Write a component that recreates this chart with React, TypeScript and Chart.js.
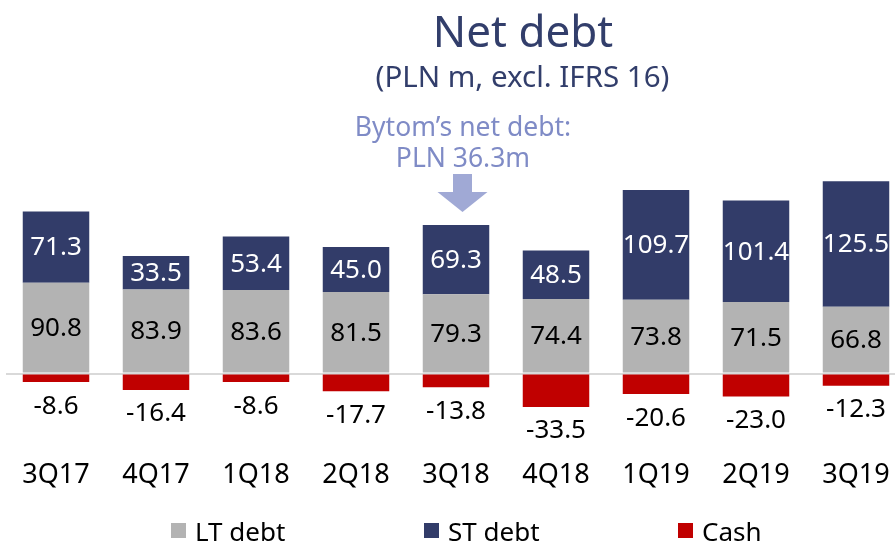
import React, { useEffect, useRef } from 'react';
import { Chart, registerables } from 'chart.js';

Chart.register(...registerables);

// ---- data ----
const categories = ['3Q17', '4Q17', '1Q18', '2Q18', '3Q18', '4Q18', '1Q19', '2Q19', '3Q19'];
const ltDebt = [90.8, 83.9, 83.6, 81.5, 79.3, 74.4, 73.8, 71.5, 66.8];
const stDebt = [71.3, 33.5, 53.4, 45.0, 69.3, 48.5, 109.7, 101.4, 125.5];
const cash = [-8.6, -16.4, -8.6, -17.7, -13.8, -33.5, -20.6, -23.0, -12.3];
const seriesNames = ['LT debt', 'ST debt', 'Cash'];
const titleText = 'Net debt';
const subtitleText = '(PLN m, excl. IFRS 16)';
const noteLines = ['Bytom’s net debt:', 'PLN 36.3m'];
const noteCategory = '3Q18';

// ---- styles ----
const FONT = "'Noto Sans', sans-serif";
const COLORS = ['#B3B3B3', '#323C69', '#C00000'];
const NAVY_TEXT = '#323E6B';
const NOTE_TEXT = '#7F8BC6';
const NOTE_ARROW = '#A0A9D5';

const overlayPlugin = {
  id: 'overlay',
  afterDatasetsDraw(chart: any) {
    const ctx = chart.ctx;
    ctx.save();
    ctx.font = `26px ${FONT}`;
    ctx.textAlign = 'center';
    ctx.textBaseline = 'middle';
    chart.data.datasets.forEach((ds: any, di: number) => {
      const meta = chart.getDatasetMeta(di);
      meta.data.forEach((el: any, i: number) => {
        const v = ds.data[i] as number;
        const { x, y, base } = el.getProps(['x', 'y', 'base'], true);
        const label = v.toFixed(1);
        if (v < 0) {
          ctx.fillStyle = '#000';
          ctx.fillText(label, x, Math.max(y, base) + 24);
        } else {
          ctx.fillStyle = di === 1 ? '#FFFFFF' : '#000';
          ctx.fillText(label, x, (y + base) / 2 + 1);
        }
      });
    });
    ctx.restore();
  },
  afterDraw(chart: any) {
    const ctx = chart.ctx;
    ctx.save();
    // title & subtitle
    ctx.textAlign = 'center';
    ctx.textBaseline = 'alphabetic';
    ctx.fillStyle = NAVY_TEXT;
    ctx.font = `44px ${FONT}`;
    ctx.fillText(titleText, 523, 47);
    ctx.font = `29.5px ${FONT}`;
    ctx.fillText(subtitleText, 522.5, 87);

    // annotation above the noted bar
    const idx = categories.indexOf(noteCategory);
    const xs = chart.scales.x;
    const ys = chart.scales.y;
    const cx = xs.getPixelForValue(idx) + 6.5;
    const barTop = ys.getPixelForValue(ltDebt[idx] + stDebt[idx]);
    const tip = barTop - 13;
    ctx.fillStyle = NOTE_ARROW;
    ctx.beginPath();
    ctx.moveTo(cx - 9.5, tip - 38);
    ctx.lineTo(cx + 9.5, tip - 38);
    ctx.lineTo(cx + 9.5, tip - 20);
    ctx.lineTo(cx + 25, tip - 20);
    ctx.lineTo(cx, tip);
    ctx.lineTo(cx - 25, tip - 20);
    ctx.lineTo(cx - 9.5, tip - 20);
    ctx.closePath();
    ctx.fill();
    ctx.fillStyle = NOTE_TEXT;
    ctx.font = `26.5px ${FONT}`;
    ctx.fillText(noteLines[0], cx + 0.5, tip - 76);
    ctx.fillText(noteLines[1], cx + 0.5, tip - 45);

    // legend
    const legendX = [171, 424, 678];
    ctx.textAlign = 'left';
    ctx.textBaseline = 'alphabetic';
    ctx.font = `26px ${FONT}`;
    chart.data.datasets.forEach((ds: any, di: number) => {
      const lx = legendX[di];
      ctx.fillStyle = ds.backgroundColor;
      ctx.fillRect(lx, 523, 15, 15);
      ctx.fillStyle = '#000';
      ctx.fillText(ds.label, lx + 24, 541);
    });
    ctx.restore();
  },
};

export default function App() {
  const ref = useRef<HTMLCanvasElement>(null);

  useEffect(() => {
    const canvas = ref.current;
    if (!canvas) return;
    const chart = new Chart(canvas, {
      type: 'bar',
      data: {
        labels: categories,
        datasets: [
          { label: seriesNames[0], data: ltDebt, backgroundColor: COLORS[0] },
          { label: seriesNames[1], data: stDebt, backgroundColor: COLORS[1] },
          { label: seriesNames[2], data: cash, backgroundColor: COLORS[2] },
        ],
      },
      options: {
        responsive: false,
        animation: false,
        devicePixelRatio: 1,
        layout: { padding: { left: 6, right: 0, top: 178.5, bottom: 33.1 } },
        datasets: { bar: { categoryPercentage: 1, barPercentage: 0.665, borderWidth: 0 } },
        plugins: { legend: { display: false }, title: { display: false }, tooltip: { enabled: false } },
        scales: {
          x: {
            stacked: true,
            offset: true,
            grid: { display: false, drawTicks: true, tickLength: 30 },
            border: { display: false },
            ticks: { color: '#000', font: { family: FONT, size: 27 }, padding: 16 },
          },
          y: {
            stacked: true,
            min: -40,
            max: 195,
            z: 1,
            ticks: { display: false, stepSize: 10 },
            border: { display: false },
            grid: {
              drawTicks: false,
              lineWidth: 2,
              color: (c: any) => (c.tick && c.tick.value === 0 ? '#D9D9D9' : 'rgba(0,0,0,0)'),
            },
          },
        },
      },
      plugins: [overlayPlugin],
    });
    return () => chart.destroy();
  }, []);

  return (
    <div
      style={{
        position: 'fixed',
        left: 0,
        top: 0,
        width: 895,
        height: 541,
        overflow: 'hidden',
        background: '#FFFFFF',
      }}
    >
      <canvas ref={ref} width={906} height={541} style={{ display: 'block', width: 906, height: 541 }} />
    </div>
  );
}
